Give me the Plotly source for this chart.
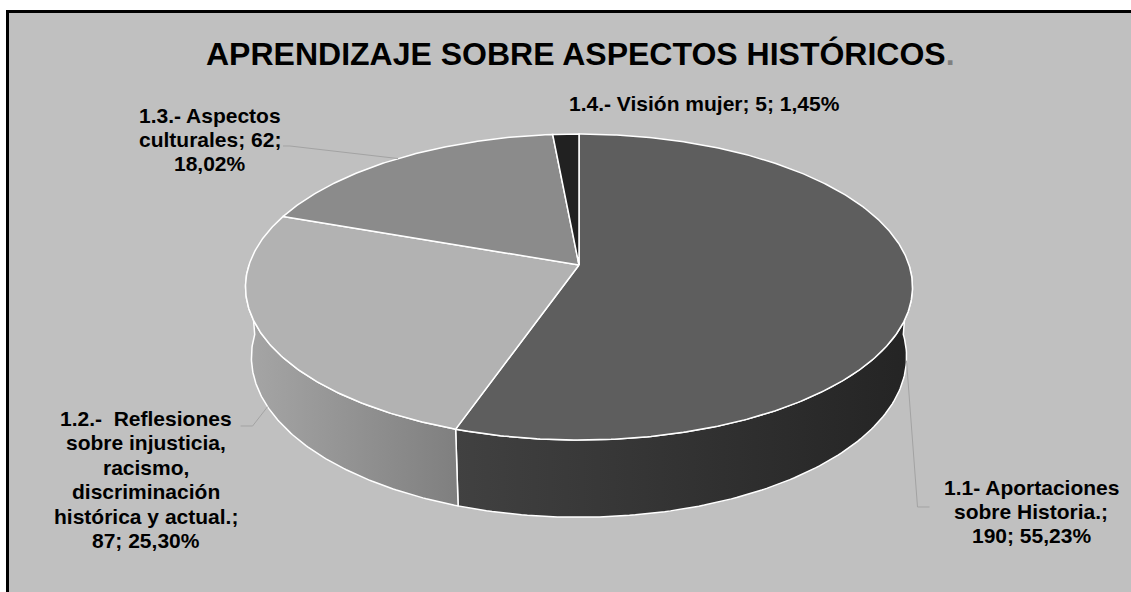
import numpy as np
import plotly.graph_objects as go

# ---- data ----
categories = [
    "1.1- Aportaciones sobre Historia.",
    "1.2.- Reflesiones sobre injusticia, racismo, discriminación histórica y actual.",
    "1.3.- Aspectos culturales",
    "1.4.- Visión mujer",
]
values = [190, 87, 62, 5]
percent_text = ["55,23%", "25,30%", "18,02%", "1,45%"]

# label text split into the lines shown next to each slice
label_lines = [
    ["1.1- Aportaciones", "sobre Historia.;", "190; 55,23%"],
    ["1.2.-\u00a0 Reflesiones", "sobre injusticia,", "racismo,", "discriminación",
     "histórica y actual.;", "87; 25,30%"],
    ["1.3.- Aspectos", "culturales; 62;", "18,02%"],
    ["1.4.- Visión mujer; 5; 1,45%"],
]
label_pos = [(1031, 495), (146, 426), (210, 123), (704, 111)]  # centre x, first baseline
line_step = [24, 24.4, 24, 24]

title = "APRENDIZAJE SOBRE ASPECTOS HISTÓRICOS"

top_colors = ["#5e5e5e", "#b2b2b2", "#8b8b8b", "#212121"]
side_colors = [("#414141", "#242424"), ("#a6a6a6", "#7f7f7f"), None, None]

# ---- 3-D pie projection (pixel space of the page) ----
W, H = 1131, 592
CX, CY = 579, 265
K = 330.0
TILT = np.arcsin(0.454)
DIST = 6.19
DEPTH = 0.24


def project(theta_deg, y3):
    t = np.radians(theta_deg)
    X, Z = np.sin(t), np.cos(t)
    up = Z * np.sin(TILT) + y3 * np.cos(TILT)
    d = Z * np.cos(TILT) - y3 * np.sin(TILT)
    s = DIST / (DIST + d)
    return CX + K * X * s, CY - K * up * s


total = sum(values)
bounds = np.concatenate([[0], np.cumsum(values)]) / total * 360.0

fig = go.Figure()

# side walls (front half only)
for i, v in enumerate(values):
    a, b = bounds[i], bounds[i + 1]
    lo, hi = max(a, 90.0), min(b, 270.0)
    if side_colors[i] is None or hi <= lo:
        continue
    th = np.linspace(lo, hi, 120)
    xt, yt = project(th, 0.0)
    xb, yb = project(th[::-1], -DEPTH)
    xs = np.concatenate([xt, xb, xt[:1]])
    ys = np.concatenate([yt, yb, yt[:1]])
    fig.add_trace(go.Scatter(
        x=xs, y=ys, mode="lines", fill="toself",
        fillgradient=dict(type="horizontal",
                          colorscale=[[0, side_colors[i][0]], [1, side_colors[i][1]]]),
        line=dict(color="white", width=1.5), hoverinfo="skip", showlegend=False,
    ))

# top faces
for i, v in enumerate(values):
    a, b = bounds[i], bounds[i + 1]
    th = np.linspace(a, b, max(8, int((b - a) * 2)))
    xa, ya = project(th, 0.0)
    xs = np.concatenate([[CX], xa, [CX]])
    ys = np.concatenate([[CY], ya, [CY]])
    fig.add_trace(go.Scatter(
        x=xs, y=ys, mode="lines", fill="toself", fillcolor=top_colors[i],
        line=dict(color="white", width=1.5), hoverinfo="skip", showlegend=False,
        name=categories[i],
    ))

# leader lines from slice mid-angles
mid = (bounds[:-1] + bounds[1:]) / 2
leaders = []
x0, y0 = project(mid[0], -DEPTH)
leaders.append(([x0, x0 + 11, x0 + 23], [y0, 507, 507]))
x1, y1 = project(mid[1], -DEPTH)
leaders.append(([x1, x1 - 15, x1 - 27], [y1, 426, 426]))
x2, y2 = project(mid[2], 0.0)
leaders.append(([x2, 290, 283], [y2, 146, 146]))
for lx, ly in leaders:
    fig.add_trace(go.Scatter(x=lx, y=ly, mode="lines",
                             line=dict(color="#a3a3a3", width=1),
                             hoverinfo="skip", showlegend=False))

annotations = []
for lines, (lx, ly), step in zip(label_lines, label_pos, line_step):
    for j, txt in enumerate(lines):
        annotations.append(dict(
            x=lx, y=ly + j * step - 7.5, xref="x", yref="y",
            text=txt, showarrow=False, xanchor="center", yanchor="middle",
            font=dict(family="Liberation Sans, Arial, sans-serif", size=21,
                      color="black", weight="bold"),
        ))

annotations.append(dict(
    x=580, y=53.5, xref="x", yref="y",
    text=title + "<span style='color:#808080'>.</span>",
    showarrow=False, xanchor="center", yanchor="middle",
    font=dict(family="Liberation Sans, Arial, sans-serif", size=32,
              color="black", weight="bold"),
))

fig.update_layout(
    width=W, height=H,
    margin=dict(l=0, r=0, t=0, b=0),
    paper_bgcolor="white", plot_bgcolor="rgba(0,0,0,0)",
    xaxis=dict(range=[0, W], visible=False, fixedrange=True),
    yaxis=dict(range=[H, 0], visible=False, fixedrange=True),
    shapes=[dict(type="rect", xref="x", yref="y", x0=7.5, y0=11.5, x1=W + 10, y1=H + 10,
                 fillcolor="#c0c0c0", line=dict(color="black", width=3), layer="below")],
    annotations=annotations,
    showlegend=False,
)

fig.write_html("out.html")
